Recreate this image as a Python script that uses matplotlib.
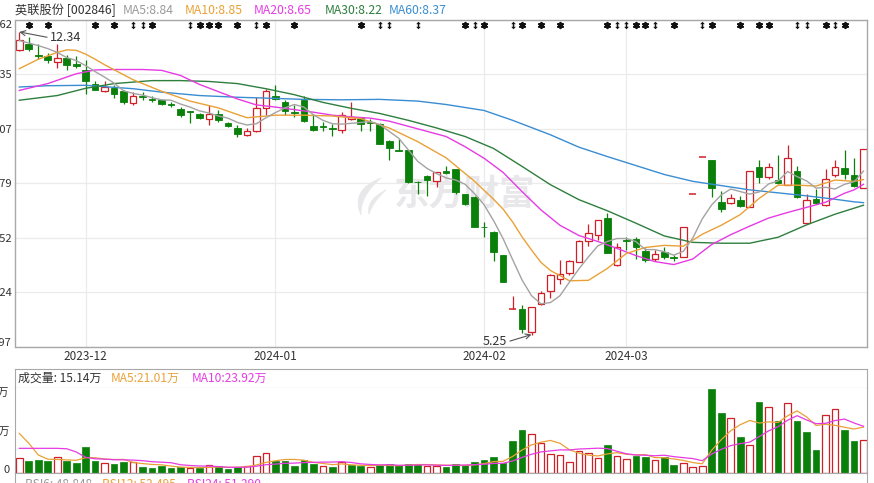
import numpy as np
import matplotlib.pyplot as plt
from matplotlib.patches import Rectangle, Polygon
from matplotlib.path import Path

plt.rcParams['font.family'] = ['Noto Sans CJK SC', 'DejaVu Sans']

# 日K 数据 (读自图片)
opens = [11.91, 12.06, 11.80, 11.77, 11.64, 11.73, 11.58, 11.45, 11.13, 10.95,
         11.03, 10.95, 10.68, 10.84, 10.78, 10.74, 10.66, 10.54, 10.48, 10.42,
         10.31, 10.42, 10.21, 10.10, 9.93, 10.01, 10.56, 10.83, 10.71, 10.47,
         10.74, 10.13, 10.14, 10.10, 10.05, 10.30, 10.32, 10.22, 10.18, 9.79,
         9.58, 9.57, 8.83, 8.97, 8.84, 9.08, 9.12, 8.54, 8.48, 7.78,
         7.66, 7.11, 5.84, 5.84, 5.32, 5.96, 6.28, 6.54, 6.70, 6.95,
         7.45, 7.59, 7.98, 6.89, 7.46, 7.48, 7.20, 7.01, 7.19, 7.06,
         7.07, 8.54, 9.40, 9.33, 8.36, 8.34, 8.40, 8.24, 9.18, 8.94,
         8.88, 8.76, 9.08, 7.87, 8.42, 8.28, 8.98, 9.15, 8.98, 8.69]
closes = [12.16, 11.95, 11.78, 11.69, 11.73, 11.57, 11.55, 11.19, 10.99, 11.05,
          10.89, 10.70, 10.85, 10.81, 10.75, 10.66, 10.62, 10.40, 10.46, 10.32,
          10.42, 10.27, 10.14, 9.96, 10.03, 10.56, 10.95, 10.77, 10.48, 10.45,
          10.25, 10.05, 10.12, 10.07, 10.39, 10.35, 10.19, 10.20, 9.72, 9.61,
          9.56, 8.83, 8.82, 8.87, 9.05, 9.03, 8.59, 8.30, 7.77, 7.76,
          7.19, 6.49, 5.85, 5.38, 5.89, 6.23, 6.64, 6.68, 6.97, 7.44,
          7.64, 7.93, 7.17, 7.31, 7.44, 7.31, 6.99, 7.13, 7.07, 7.05,
          7.76, 8.54, 9.40, 8.69, 8.19, 8.46, 8.26, 9.08, 8.94, 9.18,
          8.79, 9.38, 8.48, 8.41, 8.33, 8.90, 9.18, 9.01, 8.73, 9.59]
highs = [12.34, 12.22, 12.06, 11.84, 12.05, 11.80, 11.77, 11.69, 11.20, 11.18,
         11.09, 10.97, 10.93, 10.93, 10.85, 10.75, 10.70, 10.58, 10.49, 10.45,
         10.62, 10.50, 10.24, 10.15, 10.10, 10.81, 11.01, 11.09, 10.74, 10.62,
         10.83, 10.42, 10.23, 10.18, 10.46, 10.70, 10.35, 10.31, 10.21, 9.82,
         9.84, 9.58, 8.84, 8.98, 9.06, 9.20, 9.12, 8.55, 8.49, 7.89,
         7.67, 7.11, 6.15, 5.94, 5.90, 6.28, 6.68, 6.99, 6.99, 7.46,
         7.84, 7.94, 8.10, 7.40, 7.54, 7.54, 7.27, 7.23, 7.31, 7.11,
         7.77, 8.54, 9.40, 9.35, 8.62, 8.55, 8.49, 9.08, 9.35, 9.26,
         9.45, 9.68, 9.19, 8.55, 8.65, 9.14, 9.35, 9.57, 9.39, 9.59]
lows = [11.89, 11.89, 11.71, 11.61, 11.50, 11.44, 11.49, 10.89, 10.97, 10.93,
        10.80, 10.66, 10.62, 10.74, 10.70, 10.62, 10.58, 10.35, 10.21, 10.29,
        10.15, 10.22, 10.11, 9.89, 9.90, 10.00, 10.40, 10.74, 10.39, 10.35,
        10.23, 10.03, 10.03, 9.90, 9.97, 10.28, 10.01, 10.03, 9.71, 9.33,
        9.55, 8.80, 8.55, 8.50, 8.71, 9.02, 8.55, 8.28, 7.76, 7.54,
        6.98, 6.47, 5.84, 5.28, 5.25, 5.94, 6.10, 6.43, 6.64, 6.95,
        7.32, 7.46, 7.15, 6.85, 7.23, 7.03, 6.95, 6.98, 7.03, 6.98,
        7.06, 8.54, 9.40, 8.48, 8.12, 8.30, 8.24, 8.24, 8.81, 8.90,
        8.77, 8.75, 8.46, 7.85, 8.30, 8.26, 8.94, 8.90, 8.71, 8.69]
# 成交量 (万)
volumes = [7.03, 5.94, 6.25, 5.94, 7.50, 5.78, 5.00, 12.34, 5.78, 4.69,
           4.37, 5.47, 5.16, 3.12, 2.66, 3.44, 2.50, 2.81, 2.34, 2.34,
           3.75, 3.44, 2.03, 2.81, 3.28, 7.97, 9.53, 5.78, 5.78, 3.44,
           6.25, 4.37, 3.28, 2.97, 5.16, 4.06, 3.28, 2.81, 3.75, 4.37,
           3.75, 4.37, 4.37, 3.59, 3.59, 2.97, 4.37, 3.75, 5.31, 6.25,
           7.66, 5.00, 15.15, 20.31, 18.44, 14.06, 9.06, 8.44, 5.16, 10.47,
           9.53, 7.03, 13.28, 7.97, 6.72, 8.12, 7.81, 6.25, 7.50, 3.91,
           4.69, 2.81, 3.28, 39.50, 28.28, 25.78, 17.03, 13.28, 33.43, 30.93,
           24.37, 32.81, 24.68, 19.37, 10.94, 27.34, 30.00, 20.31, 15.15, 15.47]

# 均线 (读自图片)
ma5 = [12.14, 12.08, 12.02, 11.95, 11.86, 11.74, 11.67, 11.55, 11.41, 11.28,
       11.14, 10.96, 10.90, 10.86, 10.80, 10.75, 10.74, 10.65, 10.58, 10.49,
       10.44, 10.37, 10.32, 10.22, 10.16, 10.19, 10.33, 10.45, 10.56, 10.64,
       10.58, 10.40, 10.27, 10.19, 10.18, 10.20, 10.22, 10.24, 10.17, 10.01,
       9.85, 9.58, 9.31, 9.14, 9.02, 8.92, 8.87, 8.77, 8.55, 8.29,
       7.92, 7.50, 7.01, 6.53, 6.16, 5.97, 6.00, 6.16, 6.48, 6.79,
       7.07, 7.33, 7.43, 7.50, 7.50, 7.43, 7.24, 7.24, 7.19, 7.11,
       7.20, 7.51, 7.96, 8.29, 8.52, 8.66, 8.60, 8.54, 8.59, 8.78,
       8.85, 9.07, 8.95, 8.85, 8.68, 8.70, 8.66, 8.77, 8.83, 9.08]
ma10_x = [0, 2, 4, 5, 6, 7, 8, 9, 12, 15, 18, 21, 24, 27, 30, 33, 36, 39, 42, 45,
          48, 50, 51, 52, 53, 54, 55, 56, 58, 60, 62, 64, 66, 68, 70, 72, 74, 76,
          78, 80, 82, 84, 86, 88, 89]
ma10 = [11.48, 11.70, 11.86, 11.92, 11.91, 11.82, 11.70, 11.57, 11.22, 10.95,
        10.72, 10.56, 10.33, 10.39, 10.39, 10.37, 10.31, 10.09, 9.77, 9.39,
        8.84, 8.42, 8.19, 7.89, 7.54, 7.23, 6.94, 6.75, 6.51, 6.52, 6.80, 7.15,
        7.29, 7.34, 7.32, 7.60, 7.81, 8.06, 8.44, 8.75, 8.75, 8.73, 8.87, 8.84, 8.88]
ma20_x = [0, 3, 6, 8, 10, 13, 15, 17, 19, 21, 23, 25, 27, 29, 31, 33, 35, 37, 39,
          41, 43, 45, 47, 49, 51, 53, 55, 57, 59, 61, 63, 65, 67, 69, 71, 73, 75,
          77, 79, 81, 83, 85, 87, 88, 89]
ma20 = [10.97, 11.13, 11.36, 11.45, 11.46, 11.46, 11.44, 11.32, 11.11, 10.94,
        10.77, 10.63, 10.58, 10.52, 10.46, 10.39, 10.35, 10.32, 10.25, 10.13,
        10.01, 9.89, 9.65, 9.38, 9.05, 8.60, 8.17, 7.81, 7.57, 7.43, 7.27, 7.10,
        6.96, 6.89, 7.02, 7.36, 7.59, 7.79, 7.98, 8.11, 8.23, 8.35, 8.56, 8.64, 8.77]
ma30_x = [0, 4, 7, 10, 14, 17, 20, 23, 26, 29, 32, 35, 38, 41, 44, 47, 50, 53, 56,
          59, 62, 65, 68, 71, 74, 77, 80, 83, 86, 88, 89]
ma30 = [10.74, 10.85, 11.02, 11.13, 11.20, 11.20, 11.18, 11.13, 11.01, 10.87,
        10.69, 10.55, 10.43, 10.27, 10.09, 9.89, 9.61, 9.19, 8.76, 8.41, 8.15,
        7.86, 7.56, 7.41, 7.39, 7.39, 7.53, 7.82, 8.07, 8.21, 8.28]
ma60_x = [0, 3, 7, 12, 15, 19, 23, 26, 30, 34, 38, 42, 45, 49, 52, 56, 59, 62, 65,
          68, 71, 74, 77, 80, 83, 86, 88, 89]
ma60 = [11.05, 11.08, 11.09, 11.01, 10.93, 10.85, 10.81, 10.79, 10.76, 10.75,
        10.76, 10.72, 10.64, 10.50, 10.27, 9.93, 9.64, 9.42, 9.21, 9.00, 8.84,
        8.74, 8.64, 8.57, 8.50, 8.42, 8.36, 8.34]
vol_ma5 = [18.7, 14.1, 8.6, 6.6, 6.53, 6.28, 6.09, 7.31, 7.28, 6.72,
           6.44, 6.53, 5.09, 4.56, 4.16, 3.97, 3.38, 2.91, 2.75, 2.69,
           2.75, 2.94, 2.78, 2.87, 3.06, 3.91, 5.12, 5.87, 6.47, 6.50,
           6.16, 5.12, 4.62, 4.06, 4.41, 3.97, 3.75, 3.66, 3.81, 3.65,
           3.59, 3.81, 4.12, 4.09, 3.93, 3.78, 3.78, 3.65, 4.00, 4.53,
           5.47, 5.59, 7.87, 10.87, 13.31, 14.59, 15.40, 14.06, 11.03, 9.44,
           8.53, 8.13, 9.09, 9.66, 8.91, 8.62, 8.78, 7.37, 7.28, 6.72,
           6.03, 5.03, 4.44, 10.84, 15.71, 19.93, 22.77, 24.77, 23.56, 24.09,
           23.81, 26.96, 29.24, 26.43, 22.43, 23.03, 22.47, 21.59, 20.75, 21.65]
vol_ma10 = [11.7, 11.7, 11.7, 11.7, 11.7, 11.5, 10.0, 7.5, 6.8, 6.63,
            6.36, 6.31, 6.20, 5.92, 5.44, 5.20, 4.95, 4.00, 3.66, 3.42,
            3.36, 3.16, 2.84, 2.81, 2.87, 3.33, 4.03, 4.33, 4.67, 4.78,
            5.03, 5.12, 5.25, 5.27, 5.45, 5.06, 4.44, 4.14, 3.94, 4.03,
            3.78, 3.78, 3.89, 3.95, 3.79, 3.69, 3.79, 3.89, 4.04, 4.23,
            4.62, 4.69, 5.76, 7.44, 8.92, 10.03, 10.50, 10.97, 10.95, 11.38,
            11.56, 11.77, 11.58, 10.34, 9.17, 8.58, 8.45, 8.23, 8.47, 7.81,
            7.33, 6.91, 5.91, 9.06, 11.22, 12.98, 13.90, 14.61, 17.20, 19.90,
            21.87, 24.87, 27.01, 25.00, 23.26, 23.42, 24.72, 25.42, 23.59, 22.04]

price_ticks = [4.97, 6.24, 7.52, 8.79, 10.07, 11.35, 12.62]
price_labels = ['4.97', '6.24', '7.52', '8.79', '10.07', '11.35', '12.62']
month_idx = [7, 27, 49, 64]
month_labels = ['2023-12', '2024-01', '2024-02', '2024-03']
star_idx = [1, 3, 8, 10, 14, 19, 20, 21, 23, 26, 29, 36, 47, 49, 53, 55, 57,
            62, 65, 66, 69, 73, 76, 78, 79, 85, 87]
arrow_idx = [12, 13, 18, 25, 38, 39, 42, 48, 52, 63, 64, 67, 72, 82, 83, 86]

# 颜色
UP = '#d01f27'
DN = '#0a800a'
C5, C10, C20, C30, C60 = '#a3a3a3', '#e9a137', '#e63be3', '#2e7f3e', '#3a8dd2'
GRID = '#ebebeb'
EDGE = '#a8a8a8'
TXT = '#333333'
WM = '#e8e8eb'

W, H = 874, 483
fig = plt.figure(figsize=(W / 100, H / 100), dpi=100)


def fx(px):
    return px / W


def fy(py):
    return 1 - py / H


def qbez(p0, p1, p2, k=20):
    t = np.linspace(0, 1, k)[:, None]
    p0, p1, p2 = map(np.array, (p0, p1, p2))
    pts = (1 - t) ** 2 * p0 + 2 * (1 - t) * t * p1 + t ** 2 * p2
    return [(fx(x), fy(y)) for x, y in pts]


L, R = 15.5, 867.3
aw = fx(R) - fx(L)
n = len(closes)
xs = np.arange(n)

# ---- K线主图
ax = fig.add_axes([fx(L), fy(346.5), aw, fy(20) - fy(346.5)])
ax.set_xlim(-0.4, n - 1 + 0.4)
ax.set_ylim(price_ticks[0], price_ticks[-1])
ax.set_axisbelow(True)
ax.grid(True, color=GRID, lw=0.9)
ax.set_yticks(price_ticks)
ax.set_yticklabels(price_labels, fontsize=8, color=TXT)
ax.set_xticks(month_idx)
ax.set_xticklabels(month_labels, fontsize=8.5, color=TXT)
ax.tick_params(axis='y', length=0, pad=2.6)
ax.tick_params(axis='x', length=0, pad=2.5)
ticks = ax.yaxis.get_major_ticks()
ticks[0].label1.set_va('baseline')
ticks[-1].label1.set_va('top')
for s in ax.spines.values():
    s.set_color(EDGE)
    s.set_linewidth(1)

bw = 0.7
for i in xs:
    o, c, h, l = opens[i], closes[i], highs[i], lows[i]
    if c >= o:
        ax.vlines(i, c, h, color=UP, lw=0.9, zorder=2)
        ax.vlines(i, l, o, color=UP, lw=0.9, zorder=2)
        if c - o < 0.015:
            ax.hlines(c, i - bw / 2, i + bw / 2, color=UP, lw=1.1, zorder=2)
        else:
            ax.add_patch(Rectangle((i - bw / 2, o), bw, c - o, facecolor='white',
                                   edgecolor=UP, lw=0.9, zorder=2))
    else:
        ax.vlines(i, l, h, color=DN, lw=0.9, zorder=2)
        ax.add_patch(Rectangle((i - bw / 2, c), bw, o - c, facecolor=DN,
                               edgecolor=DN, lw=0.6, zorder=2))

ax.plot(ma60_x, ma60, color=C60, lw=1, zorder=3)
ax.plot(ma30_x, ma30, color=C30, lw=1, zorder=3)
ax.plot(ma20_x, ma20, color=C20, lw=1, zorder=3)
ax.plot(ma10_x, ma10, color=C10, lw=1, zorder=3)
ax.plot(xs, ma5, color=C5, lw=1, zorder=3)

# 最高/最低标注
hi = int(np.argmax(highs))
lo = int(np.argmin(lows))
ax.annotate(f'{highs[hi]:.2f}', xy=(hi, highs[hi]), xytext=(22, -4.2),
            textcoords='offset points', ha='left', va='center', fontsize=9,
            color=TXT, arrowprops=dict(arrowstyle='->', color='#555555', lw=0.8,
                                       shrinkA=0, shrinkB=0, relpos=(0, 0.5)))
ax.annotate(f'{lows[lo]:.2f}', xy=(lo, lows[lo]), xytext=(-17.5, -5.3),
            textcoords='offset points', ha='right', va='center', fontsize=9,
            color=TXT, arrowprops=dict(arrowstyle='->', color='#555555', lw=0.8,
                                       shrinkA=0, shrinkB=0, relpos=(1, 0.5)))

# 信息地雷标记
xt = ax.get_xaxis_transform()
ax.scatter(star_idx, [0.984] * len(star_idx), transform=xt, marker=(6, 2, 0),
           s=15, color='#111111', lw=1.4, zorder=4, clip_on=False)
dbl = Path([(0, 1), (0.6, 0.35), (0.2, 0.35), (0.2, -0.35), (0.6, -0.35),
            (0, -1), (-0.6, -0.35), (-0.2, -0.35), (-0.2, 0.35), (-0.6, 0.35), (0, 1)])
ax.scatter(arrow_idx, [0.984] * len(arrow_idx), transform=xt, marker=dbl,
           s=30, color='#111111', lw=0, zorder=4, clip_on=False)

# 水印
ax.text(fx(465), fy(195), '东方财富', transform=fig.transFigure, ha='center',
        va='center', fontsize=25.5, fontweight='bold', color=WM, zorder=0.6)
blade1 = qbez((381, 178), (350, 190), (361, 215)) + qbez((361, 215), (360, 196), (381, 178))
blade2 = qbez((386, 190), (366, 200), (369, 214)) + qbez((369, 214), (373, 202), (386, 190))
for b in (blade1, blade2):
    ax.add_patch(Polygon(b, closed=True, transform=fig.transFigure, facecolor=WM,
                         edgecolor=WM, lw=0.5, zorder=0.6))

# 顶部图例
fig.text(fx(15), fy(10), '英联股份 [002846]', fontsize=8.8, color=TXT, va='center')
for xp, s, col in [(123, 'MA5:8.84', '#9a9a9a'), (185, 'MA10:8.85', C10),
                   (254, 'MA20:8.65', C20), (325, 'MA30:8.22', C30),
                   (389, 'MA60:8.37', C60)]:
    fig.text(fx(xp), fy(10), s, fontsize=8.8, color=col, va='center')

# ---- 成交量
axt = fig.add_axes([fx(L), fy(388.3), aw, fy(369.3) - fy(388.3)])
axt.set_xticks([])
axt.set_yticks([])
for s in axt.spines.values():
    s.set_color(EDGE)
fig.text(fx(18), fy(378.5), '成交量: 15.14万', fontsize=8.6, color=TXT, va='center')
fig.text(fx(111), fy(378.5), 'MA5:21.01万', fontsize=8.6, color=C10, va='center')
fig.text(fx(192), fy(378.5), 'MA10:23.92万', fontsize=8.6, color=C20, va='center')

axv = fig.add_axes([fx(L), fy(473.3), aw, fy(388.3) - fy(473.3)])
axv.set_xlim(-0.4, n - 1 + 0.4)
vtop = 39.84
axv.set_ylim(0, vtop)
vol_up = [closes[0] >= opens[0]] + [closes[i] >= closes[i - 1] for i in range(1, n)]
for i in xs:
    if vol_up[i]:
        axv.bar(i, volumes[i], width=bw, facecolor='white', edgecolor=UP, lw=0.9)
    else:
        axv.bar(i, volumes[i], width=bw, facecolor=DN, edgecolor=DN, lw=0.5)
axv.plot(xs, vol_ma5, color=C10, lw=0.9)
axv.plot(xs, vol_ma10, color=C20, lw=0.9)
axv.set_xticks([])
axv.set_yticks([0, vtop / 2, vtop])
axv.set_yticklabels(['0', '20万', '40万'], fontsize=8, color=TXT)
axv.tick_params(axis='y', length=0, pad=4.2)
vt = axv.yaxis.get_major_ticks()
vt[0].label1.set_va('baseline')
vt[-1].label1.set_va('top')
for s in axv.spines.values():
    s.set_color(EDGE)
axv.spines['top'].set_visible(False)

# ---- RSI (只露出标题行)
axr = fig.add_axes([fx(L), 0, aw, fy(473.3)])
axr.set_xticks([])
axr.set_yticks([])
for s in axr.spines.values():
    s.set_color(EDGE)
axr.spines['bottom'].set_visible(False)
for xp, s, col in [(25, 'RSI6: 48.848', '#9a9a9a'), (102, 'RSI12: 52.495', C10),
                   (187, 'RSI24: 51.290', C20)]:
    fig.text(fx(xp), fy(477.5), s, fontsize=8.6, color=col, va='top')

fig.savefig('out.png', dpi=100)
